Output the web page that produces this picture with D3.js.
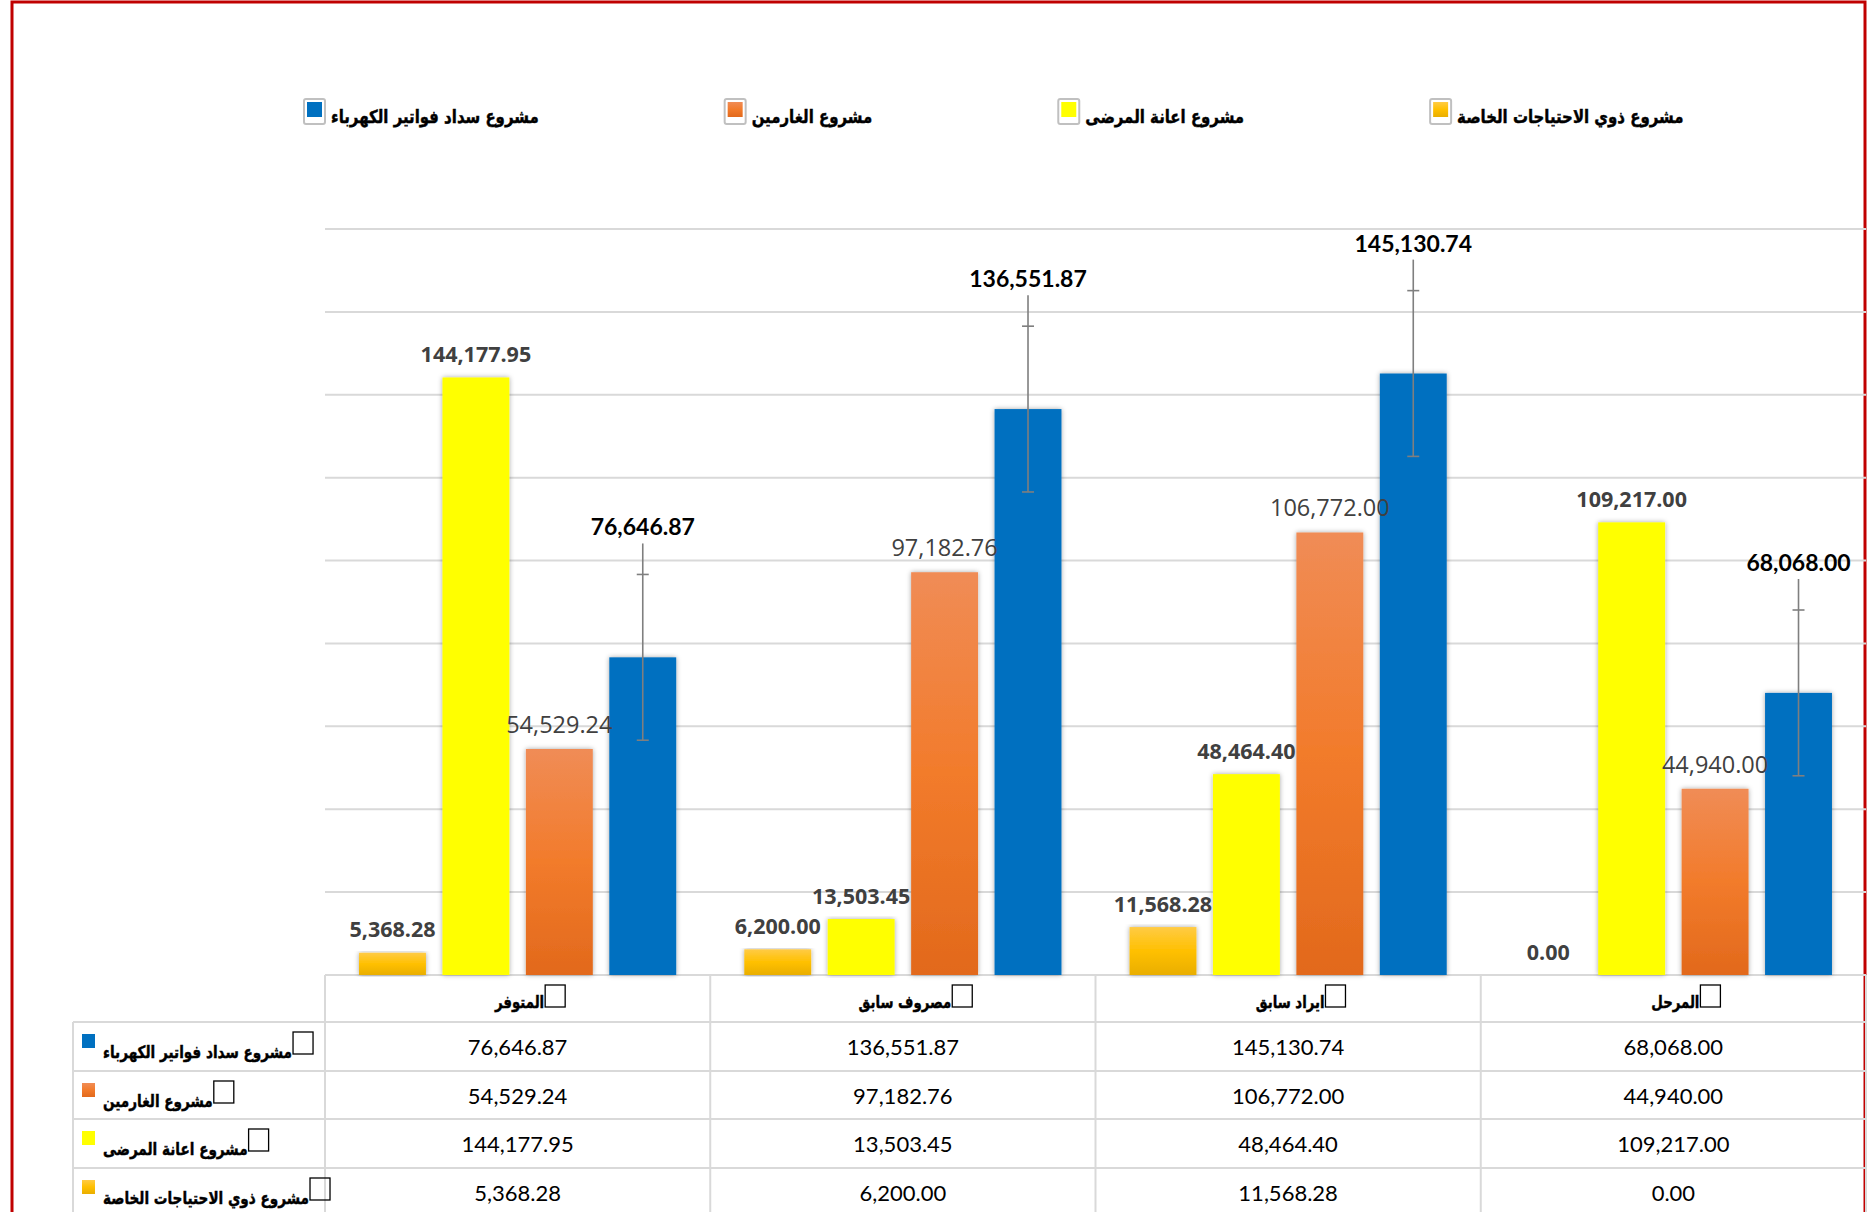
<!DOCTYPE html>
<html>
<head>
<meta charset="utf-8">
<script src="https://cdn.jsdelivr.net/npm/d3@7"></script>
<style>
  html, body { margin: 0; padding: 0; background: #fff; overflow: hidden; }
  #container { width: 1871px; height: 1212px; }
</style>
</head>
<body>
<div id="container"></div>
<script>
const categories = ["المتوفر", "مصروف سابق", "ايراد سابق", "المرحل"];
const seriesNames = [
  "مشروع ذوي الاحتياجات الخاصة",
  "مشروع اعانة المرضى",
  "مشروع الغارمين",
  "مشروع سداد فواتير الكهرباء"
];
const specialNeeds = [5368.28, 6200.00, 11568.28, 0.00];
const patientsAid = [144177.95, 13503.45, 48464.40, 109217.00];
const debtors = [54529.24, 97182.76, 106772.00, 44940.00];
const electricity = [76646.87, 136551.87, 145130.74, 68068.00];
const errorAmount = 20000;
const yMax = 180000;

const container = d3.select("#container");
const svg = container.append("svg").attr("width", 1871).attr("height", 1212);
const fmt = d3.format(",.2f");
const arabicFont = "'DejaVu Sans', sans-serif";

// defs: shadow + gradients
const defs = svg.append("defs");
defs.append("filter")
  .attr("id", "shadow")
  .attr("x", "-30%").attr("y", "-5%").attr("width", "160%").attr("height", "110%")
  .append("feDropShadow")
  .attr("dx", 0).attr("dy", 0)
  .attr("stdDeviation", 2.5)
  .attr("flood-color", "#000")
  .attr("flood-opacity", 0.35);

let addGradient = (id, stops) => {
  let g = defs.append("linearGradient").attr("id", id)
    .attr("x1", 0).attr("y1", 0).attr("x2", 0).attr("y2", 1);
  stops.forEach((c, i) => g.append("stop").attr("offset", i / (stops.length - 1)).attr("stop-color", c));
};
addGradient("goldGrad", ["#ffcb45", "#ffc000", "#e9ae00"]);
addGradient("orangeGrad", ["#f08c56", "#f27b2b", "#e2691c"]);

const series = [
  { key: "gold", name: seriesNames[0], values: specialNeeds, fill: "url(#goldGrad)" },
  { key: "yellow", name: seriesNames[1], values: patientsAid, fill: "#ffff00" },
  { key: "orange", name: seriesNames[2], values: debtors, fill: "url(#orangeGrad)" },
  { key: "blue", name: seriesNames[3], values: electricity, fill: "#0070c0" }
];

// arabic text in the original is a heavy condensed face, so squeeze DejaVu a bit
let arabicText = (sel, size, squeeze) => {
  sel.attr("font-family", arabicFont)
    .attr("font-weight", "bold")
    .attr("font-size", size)
    .attr("fill", "#000")
    .attr("stroke", "#000")
    .attr("stroke-width", 0.45);
  let w = sel.node().getComputedTextLength() * squeeze;
  sel.attr("textLength", w).attr("lengthAdjust", "spacingAndGlyphs");
  return w;
};

// frame
svg.append("rect")
  .attr("x", 12).attr("y", 2)
  .attr("width", 1853).attr("height", 1400)
  .attr("fill", "none")
  .attr("stroke", "#c00000")
  .attr("stroke-width", 3);

const x0 = d3.scaleBand().domain(categories).range([325, 1866]);
const x1 = d3.scaleBand().domain(series.map(s => s.key))
  .range([0, x0.bandwidth()])
  .paddingInner(0.198)
  .paddingOuter(0.408);
const y = d3.scaleLinear().domain([0, yMax]).range([975, 229]);

// gridlines
svg.append("g")
  .selectAll("line")
  .data(y.ticks(9))
  .join("line")
  .attr("x1", 325).attr("x2", 1866)
  .attr("y1", d => y(d)).attr("y2", d => y(d))
  .attr("stroke", "#d9d9d9")
  .attr("stroke-width", 2);

// bars
let bars = svg.append("g");
series.forEach(s => {
  bars.append("g")
    .selectAll("rect")
    .data(s.values)
    .join("rect")
    .attr("x", (d, i) => x0(categories[i]) + x1(s.key))
    .attr("width", x1.bandwidth())
    .attr("y", d => y(d))
    .attr("height", d => y(0) - y(d))
    .attr("fill", s.fill)
    .attr("filter", "url(#shadow)");
});

// error bars on blue series
let errG = svg.append("g").attr("stroke", "#7f7f7f").attr("stroke-width", 1.6);
electricity.forEach((v, i) => {
  let cx = x0(categories[i]) + x1("blue") + x1.bandwidth() / 2;
  let top = y(v + errorAmount), bot = y(v - errorAmount);
  errG.append("line").attr("x1", cx).attr("x2", cx).attr("y1", top).attr("y2", bot);
  errG.append("line").attr("x1", cx - 6).attr("x2", cx + 6).attr("y1", top).attr("y2", top);
  errG.append("line").attr("x1", cx - 6).attr("x2", cx + 6).attr("y1", bot).attr("y2", bot);
  // leader line up to the label
  errG.append("line").attr("x1", cx).attr("x2", cx).attr("y1", top).attr("y2", top - 31);
});

// data labels
const labelStyle = {
  gold: { font: "'Open Sans', sans-serif", weight: "bold", size: 21.5, color: "#404040", off: 24 },
  yellow: { font: "'Open Sans', sans-serif", weight: "bold", size: 21.5, color: "#404040", off: 24 },
  orange: { font: "'Open Sans', sans-serif", weight: "normal", size: 23.5, color: "#404040", off: 25 },
  blue: { font: "Lato, sans-serif", weight: "bold", size: 23, color: "#000", off: 0 }
};
let labels = svg.append("g").attr("text-anchor", "middle").attr("dominant-baseline", "central");
series.forEach(s => {
  let st = labelStyle[s.key];
  labels.append("g")
    .selectAll("text")
    .data(s.values)
    .join("text")
    .attr("x", (d, i) => x0(categories[i]) + x1(s.key) + x1.bandwidth() / 2)
    .attr("y", d => s.key == "blue" ? y(d + errorAmount) - 48 : y(d) - st.off)
    .attr("font-family", st.font)
    .attr("font-weight", st.weight)
    .attr("font-size", st.size)
    .attr("fill", st.color)
    .text(d => fmt(d));
});

// legend
let legend = svg.append("g");
let lx = 303;
series.slice().reverse().forEach(s => {
  let item = legend.append("g").attr("transform", `translate(${lx},98)`);
  item.append("rect")
    .attr("x", 1).attr("y", 1).attr("width", 21).attr("height", 25).attr("rx", 2)
    .attr("fill", "#fff").attr("stroke", "#c0c0c0").attr("stroke-width", 2);
  item.append("rect")
    .attr("x", 4).attr("y", 4).attr("width", 15).attr("height", 15)
    .attr("fill", s.fill);
  let t = item.append("text")
    .attr("x", 28).attr("y", 25)
    .text(s.name);
  let w = arabicText(t, 18, 0.83);
  lx += 28 + w + 185;
});

// data table
const rowTops = [1022, 1071, 1119, 1168];
const rowH = 48.5;
const tableSeries = series.slice().reverse();
let table = svg.append("g");
let gridC = "#d9d9d9";

// horizontal rules
rowTops.forEach(t => {
  table.append("line").attr("x1", 73).attr("x2", 1866).attr("y1", t).attr("y2", t)
    .attr("stroke", gridC).attr("stroke-width", 2);
});
// vertical rules
table.append("line").attr("x1", 73).attr("x2", 73).attr("y1", 1022).attr("y2", 1212)
  .attr("stroke", gridC).attr("stroke-width", 2);
categories.concat([null]).forEach(c => {
  let xx = c ? x0(c) : 1866;
  table.append("line").attr("x1", xx).attr("x2", xx).attr("y1", 975).attr("y2", 1212)
    .attr("stroke", gridC).attr("stroke-width", 2);
});

// header cells
categories.forEach(c => {
  let cx = x0(c) + x0.bandwidth() / 2;
  let g = table.append("g");
  let t = g.append("text")
    .attr("y", 1008)
    .text(c);
  let tw = arabicText(t, 17, 0.78);
  let w = tw + 22;
  let left = cx + 13 - w / 2;
  t.attr("x", left);
  g.append("rect")
    .attr("x", left + tw + 1).attr("y", 985).attr("width", 20).attr("height", 22)
    .attr("fill", "none").attr("stroke", "#000").attr("stroke-width", 1.3);
});

// body rows
tableSeries.forEach((s, r) => {
  let top = rowTops[r];
  table.append("rect")
    .attr("x", 82).attr("y", top + 12).attr("width", 13).attr("height", 14)
    .attr("fill", s.fill);
  let t = table.append("text")
    .attr("x", 103).attr("y", top + 36)
    .text(s.name);
  let w = arabicText(t, 17, 0.8);
  table.append("rect")
    .attr("x", 104 + w).attr("y", top + 10).attr("width", 20).attr("height", 22)
    .attr("fill", "none").attr("stroke", "#000").attr("stroke-width", 1.3);

  table.append("g")
    .selectAll("text")
    .data(s.values)
    .join("text")
    .attr("x", (d, i) => x0(categories[i]) + x0.bandwidth() / 2)
    .attr("y", top + rowH / 2)
    .attr("text-anchor", "middle")
    .attr("dominant-baseline", "central")
    .attr("font-family", "Lato, sans-serif")
    .attr("font-size", 22)
    .attr("fill", "#000")
    .text(d => fmt(d));
});
</script>
</body>
</html>
